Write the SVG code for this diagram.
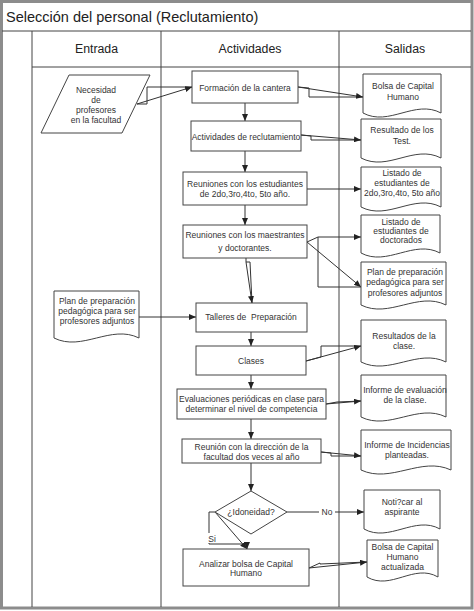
<svg xmlns="http://www.w3.org/2000/svg" width="474" height="611" viewBox="0 0 474 611">
<defs>
<style>
.frame{fill:none;stroke:#8c8c8c;stroke-width:3}
.grid{fill:none;stroke:#444;stroke-width:1}
.box{fill:#fff;stroke:#444;stroke-width:1}
.ln{fill:none;stroke:#333;stroke-width:1}
.t{font-family:"Liberation Sans",Arial,sans-serif;font-size:8.5px;fill:#333;text-anchor:middle}
.h{font-family:"Liberation Sans",Arial,sans-serif;font-size:12.3px;fill:#222;text-anchor:middle}
.title{font-family:"Liberation Sans",Arial,sans-serif;font-size:14.5px;fill:#222}
</style>
<marker id="ar" markerWidth="7" markerHeight="6" refX="7" refY="3" orient="auto" markerUnits="userSpaceOnUse">
<path d="M0,0 L7,3 L0,6 Z" fill="#222"/>
</marker>
</defs>
<rect x="0" y="0" width="474" height="611" fill="#fff"/>
<g id="frame">
<rect class="frame" x="1.5" y="1.5" width="470.5" height="606.5"/>
<line class="grid" x1="2" y1="31" x2="471" y2="31"/>
<line class="grid" x1="32" y1="31" x2="32" y2="607"/>
<line class="grid" x1="32" y1="67" x2="471" y2="67"/>
<line class="grid" x1="161" y1="31" x2="161" y2="607"/>
<line class="grid" x1="339" y1="31" x2="339" y2="607"/>
<text class="title" x="6" y="22">Selección del personal (Reclutamiento)</text>
<text class="h" x="96.5" y="53">Entrada</text>
<text class="h" x="250" y="53">Actividades</text>
<text class="h" x="405" y="53">Salidas</text>
</g>
<g id="connectors">
<polyline class="ln" points="137,104 147,104 147,87 192,87"/>
<line class="ln" x1="137" y1="104" x2="192" y2="87" marker-end="url(#ar)"/>
<polyline class="ln" points="298,87 309,88 309,97 363,97"/>
<line class="ln" x1="298" y1="87" x2="363" y2="97" marker-end="url(#ar)"/>
<line class="ln" x1="245" y1="103" x2="245" y2="121" marker-end="url(#ar)"/>
<polyline class="ln" points="301,135 311,136 311,140 361,140"/>
<line class="ln" x1="301" y1="135" x2="361" y2="140" marker-end="url(#ar)"/>
<line class="ln" x1="245" y1="151" x2="245" y2="172" marker-end="url(#ar)"/>
<line class="ln" x1="307" y1="189" x2="361" y2="189" marker-end="url(#ar)"/>
<line class="ln" x1="245" y1="205" x2="245" y2="225" marker-end="url(#ar)"/>
<polyline class="ln" points="307,242 318,237 361,237" marker-end="url(#ar)"/>
<polyline class="ln" points="318,237 318,287 361,287"/>
<line class="ln" x1="307" y1="242" x2="361" y2="287" marker-end="url(#ar)"/>
<polyline class="ln" points="246,258 246,262 250,262 252,303"/>
<line class="ln" x1="246" y1="262" x2="252" y2="303" marker-end="url(#ar)"/>
<line class="ln" x1="139" y1="317" x2="196" y2="317" marker-end="url(#ar)"/>
<line class="ln" x1="251" y1="332" x2="251" y2="346" marker-end="url(#ar)"/>
<polyline class="ln" points="306,361 321,357 321,346 361,346"/>
<line class="ln" x1="306" y1="361" x2="361" y2="346" marker-end="url(#ar)"/>
<line class="ln" x1="251" y1="375" x2="251" y2="389" marker-end="url(#ar)"/>
<polyline class="ln" points="326,404 337,402 361,401"/>
<line class="ln" x1="326" y1="404" x2="361" y2="401" marker-end="url(#ar)"/>
<line class="ln" x1="251" y1="419" x2="251" y2="439" marker-end="url(#ar)"/>
<polyline class="ln" points="321,452 331,453 331,456 361,456"/>
<line class="ln" x1="321" y1="452" x2="361" y2="456" marker-end="url(#ar)"/>
<line class="ln" x1="251" y1="463" x2="251" y2="491" marker-end="url(#ar)"/>
<line class="ln" x1="287" y1="512" x2="364" y2="512" marker-end="url(#ar)"/>
<polyline class="ln" points="215,512 209,512 209,544 247,544 247,549" marker-end="url(#ar)"/>
<line class="ln" x1="215" y1="512" x2="247" y2="549" marker-end="url(#ar)"/>
<polyline class="ln" points="309,568 320,563 320,564 367,562"/>
<line class="ln" x1="309" y1="568" x2="367" y2="562" marker-end="url(#ar)"/>
<rect x="319" y="507" width="16" height="10" fill="#fff"/>
<text class="t" x="327" y="515">No</text>
<rect x="204" y="533" width="14" height="10" fill="#fff"/>
<text class="t" x="212" y="542">Si</text>
</g>
<g id="n-necesidad">
<polygon class="box" points="69,75 150,75 122,133 41,133"/>
<text class="t" x="96" y="93">Necesidad</text>
<text class="t" x="96" y="103">de</text>
<text class="t" x="96" y="113">profesores</text>
<text class="t" x="96" y="123">en la facultad</text>
</g>
<g id="n-plan-entrada">
<path class="box" d="M54,291 H139 V338 C111,324 82,352 54,338 Z"/>
<text class="t" x="97" y="304">Plan de preparación</text>
<text class="t" x="97" y="314">pedagógica para ser</text>
<text class="t" x="97" y="324">profesores adjuntos</text>
</g>
<g id="n-formacion">
<rect class="box" x="192" y="71" width="106" height="32"/>
<text class="t" x="245" y="90.5">Formación de la cantera</text>
</g>
<g id="n-reclutamiento">
<rect class="box" x="191" y="121" width="110" height="30"/>
<text class="t" x="246" y="140">Actividades de reclutamiento</text>
</g>
<g id="n-reuniones-est">
<rect class="box" x="183" y="172" width="124" height="33"/>
<text class="t" x="245" y="187">Reuniones con los estudiantes</text>
<text class="t" x="245" y="197">de 2do,3ro,4to, 5to año.</text>
</g>
<g id="n-reuniones-maes">
<rect class="box" x="183" y="225" width="124" height="33"/>
<text class="t" x="245" y="238">Reuniones con los maestrantes</text>
<text class="t" x="245" y="251">y doctorantes.</text>
</g>
<g id="n-talleres">
<rect class="box" x="196" y="303" width="111" height="29"/>
<text class="t" x="251" y="320" xml:space="preserve">Talleres de  Preparación</text>
</g>
<g id="n-clases">
<rect class="box" x="196" y="346" width="110" height="29"/>
<text class="t" x="251" y="364">Clases</text>
</g>
<g id="n-evaluaciones">
<rect class="box" x="177" y="389" width="149" height="30"/>
<text class="t" x="251.5" y="402">Evaluaciones periódicas en clase para</text>
<text class="t" x="251.5" y="412">determinar el nivel de competencia</text>
</g>
<g id="n-reunion-dir">
<rect class="box" x="182" y="439" width="139" height="24"/>
<text class="t" x="251.5" y="450">Reunión con la dirección de la</text>
<text class="t" x="251.5" y="460">facultad dos veces al año</text>
</g>
<g id="n-idoneidad">
<polygon class="box" points="251,491 287,512 251,534 215,512"/>
<text class="t" x="251" y="515">¿Idoneidad?</text>
</g>
<g id="n-analizar">
<rect class="box" x="183" y="549" width="126" height="37"/>
<text class="t" x="246" y="567">Analizar bolsa de Capital</text>
<text class="t" x="246" y="576">Humano</text>
</g>
<g id="n-bolsa">
<path class="box" d="M363,74 H441 V113 C415,99 389,127 363,113 Z"/>
<text class="t" x="403" y="89">Bolsa de Capital</text>
<text class="t" x="403" y="100">Humano</text>
</g>
<g id="n-resultado-test">
<path class="box" d="M361,119 H441 V158 C414,144 388,172 361,158 Z"/>
<text class="t" x="402" y="133">Resultado de los</text>
<text class="t" x="402" y="144">Test.</text>
</g>
<g id="n-listado-est">
<path class="box" d="M361,167 H441 V207 C414,193 388,221 361,207 Z"/>
<text class="t" x="402" y="176">Listado de</text>
<text class="t" x="402" y="186">estudiantes de</text>
<text class="t" x="402" y="196">2do,3ro,4to, 5to año</text>
</g>
<g id="n-listado-doc">
<path class="box" d="M361,215 H440 V253 C414,239 387,267 361,253 Z"/>
<text class="t" x="401" y="225">Listado de</text>
<text class="t" x="401" y="234">estudiantes de</text>
<text class="t" x="401" y="243">doctorados</text>
</g>
<g id="n-plan-salida">
<path class="box" d="M361,262 H446 V305 C418,291 389,319 361,305 Z"/>
<text class="t" x="405" y="275">Plan de preparación</text>
<text class="t" x="405" y="285">pedagógica para ser</text>
<text class="t" x="405" y="296">profesores adjuntos</text>
</g>
<g id="n-resultados-clase">
<path class="box" d="M361,320 H446 V362 C418,348 389,376 361,362 Z"/>
<text class="t" x="404" y="339">Resultados de la</text>
<text class="t" x="404" y="349">clase.</text>
</g>
<g id="n-informe-eval">
<path class="box" d="M361,375 H446 V417 C418,403 389,431 361,417 Z"/>
<text class="t" x="405" y="393">Informe de evaluación</text>
<text class="t" x="405" y="403">de la clase.</text>
</g>
<g id="n-informe-inc">
<path class="box" d="M361,430 H451 V470 C421,456 391,484 361,470 Z"/>
<text class="t" x="407" y="448">Informe de Incidencias</text>
<text class="t" x="407" y="458">planteadas.</text>
</g>
<g id="n-notificar">
<path class="box" d="M364,490 H440 V529 C415,515 389,543 364,529 Z"/>
<text class="t" x="402" y="505">Noti?car al</text>
<text class="t" x="402" y="515">aspirante</text>
</g>
<g id="n-bolsa-act">
<path class="box" d="M367,540 H438 V577 C414,563 391,591 367,577 Z"/>
<text class="t" x="402.5" y="550">Bolsa de Capital</text>
<text class="t" x="402.5" y="560">Humano</text>
<text class="t" x="402.5" y="570">actualizada</text>
</g>
</svg>
